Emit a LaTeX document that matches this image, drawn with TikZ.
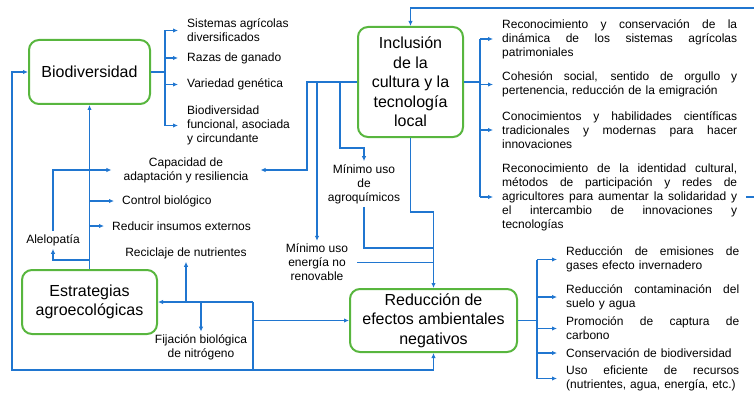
\documentclass[tikz,border=0pt]{standalone}
\usepackage{fontspec}
\setmainfont{Liberation Sans}
\usetikzlibrary{arrows.meta}
\definecolor{boxgreen}{RGB}{88,182,62}
\definecolor{lineblue}{RGB}{32,118,208}
\setlength{\parindent}{0pt}
\newcommand{\jla}[1]{{\spaceskip=0pt\xspaceskip=0pt\makebox[235pt][s]{#1}}}
\newcommand{\jlb}[1]{{\spaceskip=0pt\xspaceskip=0pt\makebox[173pt][s]{#1}}}

\tikzset{
  box/.style={draw=boxgreen, line width=2pt, rounded corners=10pt, align=center,
    inner sep=2pt, font=\fontsize{16}{19.5}\selectfont},
  lbl/.style={inner sep=3pt, align=center, font=\fontsize{12}{14}\selectfont},
  lst/.style={lbl, anchor=west, inner xsep=9pt, align=left},
  link/.style={draw=lineblue, line width=1.3pt},
  arr/.style={link, -{Latex[length=5pt,width=4.5pt]}},
}

\begin{document}
\begin{tikzpicture}[x=1pt,y=-1pt]
\useasboundingbox (0,0) rectangle (754,393);
\node[box, minimum width=121, minimum height=64] (bio) at (89.5,72) {Biodiversidad};
\node[box, minimum width=105, minimum height=110] (cul) at (410.5,82) {Inclusión\\de la\\cultura y la\\tecnología\\local};
\node[box, minimum width=135, minimum height=64] (est) at (89.5,302) {Estrategias\\agroecológicas};
\node[box, minimum width=167, minimum height=63] (red) at (433.5,320.5) {Reducción de\\efectos ambientales\\negativos};

\node[lst] (sis) at (178,30.5) {Sistemas agrícolas\\diversificados};
\node[lst] (raz) at (178,58) {Razas de ganado};
\node[lst] (var) at (178,84.5) {Variedad genética};
\node[lst] (fun) at (178,125.5) {Biodiversidad\\funcional, asociada\\y circundante};

\node[lst, text width=235] (ic1) at (493,39) {\jla{Reconocimiento y conservación de la}\\\jla{dinámica de los sistemas agrícolas}\\patrimoniales};
\node[lst, text width=235] (ic2) at (493,84.5) {\jla{Cohesión social, sentido de orgullo y}\\pertenencia, reducción de la emigración};
\node[lst, text width=235] (ic3) at (493,130) {\jla{Conocimientos y habilidades científicas}\\\jla{tradicionales y modernas para hacer}\\innovaciones};
\node[lst, text width=235] (ic4) at (493,197) {\jla{Reconocimiento de la identidad cultural,}\\\jla{métodos de participación y redes de}\\\jla{agricultores para aumentar la solidaridad y}\\\jla{el intercambio de innovaciones y}\\tecnologías};

\node[lst, text width=173] (r1) at (557,259.5) {\jlb{Reducción de emisiones de}\\gases efecto invernadero};
\node[lst, text width=173] (r2) at (557,297) {\jlb{Reducción contaminación del}\\suelo y agua};
\node[lst, text width=173] (r3) at (557,328.5) {\jlb{Promoción de captura de}\\carbono};
\node[lst, text width=173] (r4) at (557,353) {Conservación de biodiversidad};
\node[lst, text width=173] (r5) at (557,378.5) {\jlb{Uso eficiente de recursos}\\(nutrientes, agua, energía, etc.)};

\node[lbl, inner xsep=12pt] (cap) at (186,170) {Capacidad de\\adaptación y resiliencia};
\node[lst, inner xsep=8pt] (ctrl) at (114,201) {Control biológico};
\node[lst, inner xsep=8pt] (ins) at (104,226) {Reducir insumos externos};
\node[lbl] (rec) at (186,253) {Reciclaje de nutrientes};
\node[lbl] (ale) at (53,240) {Alelopatía};
\node[lbl] (fij) at (201,347.5) {Fijación biológica\\de nitrógeno};
\node[lbl] (agro) at (364,184) {Mínimo uso\\de\\agroquímicos};
\node[lbl] (ene) at (317,262.5) {Mínimo uso\\energía no\\renovable};

\coordinate (bbus) at (165,72);
\draw[link] (bio.east) -- (bbus);
\draw[link] (sis.west -| bbus) -- (fun.west -| bbus);
\foreach \n in {sis,raz,var,fun} \draw[arr] (\n.west -| bbus) -- (\n.west);

\coordinate (ibus) at (480,82);
\draw[link] (cul.east) -- (ibus);
\draw[link] (ic1.west -| ibus) -- (ic4.west -| ibus);
\foreach \n in {ic1,ic2,ic3,ic4} \draw[arr] (\n.west -| ibus) -- (\n.west);

\coordinate (rbus) at (537,320.5);
\draw[link] (red.east) -- (rbus);
\draw[link] (r1.west -| rbus) -- (r5.west -| rbus);
\foreach \n in {r1,r2,r3,r4,r5} \draw[arr] (\n.west -| rbus) -- (\n.west);

\coordinate (tr) at (757,8);
\draw[arr] (ic4.east) -- (ic4.east -| tr) -- (tr) -- (tr -| cul.north) -- (cul.north);

\draw[arr] (cul.west) -- ++(-50,0) |- (cap.east);
\draw[arr] (cul.west -| ene.north) -- (ene.north);
\draw[arr] (cul.west -| 340,0) -- (340,148) -| (agro.north);

\coordinate (j1) at (433.5,212);
\draw[arr] (cul.south) |- (j1) -- (red.north);
\draw[link] (agro.south) |- (j1 |- 0,248);
\draw[link] ([xshift=6]ene.east) -- (ene.east -| j1);

\draw[arr] (est.north) -- (bio.south);
\draw[arr] (ctrl.west -| est.north) -- (ctrl.west);
\draw[arr] (ins.west -| est.north) -- (ins.west);
\draw[arr] (est.north |- 0,260) -| (ale.south);
\draw[arr] (ale.north) |- (cap.west);

\coordinate (k) at (253,302);
\coordinate (kb) at (253,370);
\coordinate (lb) at (12,370);
\draw[arr] (k) -- (est.east);
\draw[link] (k) -- (kb);
\draw[arr] (k |- red.west) -- (red.west);
\draw[arr] (kb) -| (red.south);
\draw[arr] (kb) -- (lb) |- (bio.west);
\draw[arr] (rec.south |- k) -- (rec.south);
\draw[arr] (fij.north |- k) -- (fij.north);
\end{tikzpicture}
\end{document}
